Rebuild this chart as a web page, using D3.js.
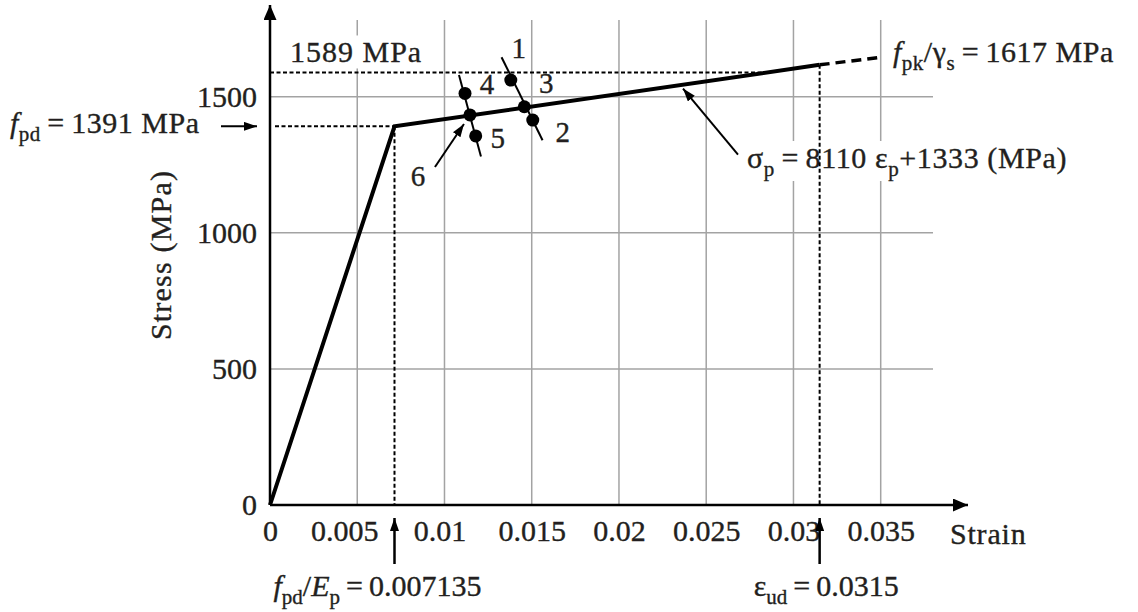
<!DOCTYPE html>
<html>
<head>
<meta charset="utf-8">
<script src="https://cdn.jsdelivr.net/npm/d3@7"></script>
<style>
  html, body { margin: 0; padding: 0; background: #fff; }
  svg { display: block; }
  text { font-family: "Liberation Serif", "Times New Roman", serif; fill: #231f20; stroke: #231f20; stroke-width: 0.35px; }
</style>
</head>
<body>
<svg id="chart" width="1138" height="612"></svg>
<script>
// ---------- data ----------
const curveStrain = [0, 0.007135, 0.0315];
const curveStress = [0, 1391, 1617];
const extStrain = [0.0315, 0.035];
const extStress = [1617, 1645];

const xTicks = [0, 0.005, 0.01, 0.015, 0.02, 0.025, 0.03, 0.035];
const xTickLabels = ["0", "0.005", "0.01", "0.015", "0.02", "0.025", "0.03", "0.035"];
const yTicks = [0, 500, 1000, 1500];
const yTickLabels = ["0", "500", "1000", "1500"];

const pointLabels = ["1", "2", "3", "4", "5", "6"];
const pointStrain = [0.01380, 0.01506, 0.014575, 0.011176, 0.01179, 0.01146];
const pointStress = [1561, 1414, 1463, 1512, 1356, 1433];

const segAStrain = [0.01327, 0.01562];
const segAStress = [1645, 1340];
const segBStrain = [0.01083, 0.01209];
const segBStress = [1580, 1280];

const refStress = 1589;     // dashed level
const fpd = 1391;
const epsYield = 0.007135;
const epsUd = 0.0315;
const sigmaArrowStrain = 0.02367; // where sigma_p arrow points

// ---------- layout ----------
const svg = d3.select("#chart");
const x = d3.scaleLinear().domain([0, 0.035]).range([270, 880.7]);
const y = d3.scaleLinear().domain([0, 1500]).range([505, 96.7]);
const gridTop = 20, gridRight = 933, xAxisEnd = 968, yAxisEnd = 5;
const FS = 30;

const defs = svg.append("defs");
function marker(id, len, wid) {
  defs.append("marker").attr("id", id)
    .attr("viewBox", `0 0 ${len} ${wid}`)
    .attr("refX", len).attr("refY", wid / 2)
    .attr("markerWidth", len).attr("markerHeight", wid)
    .attr("markerUnits", "userSpaceOnUse")
    .attr("orient", "auto")
    .append("path").attr("d", `M0,0 L${len},${wid / 2} L0,${wid} Z`).attr("fill", "#000");
}
marker("axisHead", 15, 13);
marker("annHead", 13, 9);

// grid
const grid = svg.append("g").attr("stroke", "#a3a3a3").attr("stroke-width", 1.5);
grid.selectAll("line.v").data(xTicks.slice(1)).join("line")
  .attr("x1", d => x(d)).attr("x2", d => x(d))
  .attr("y1", y(0)).attr("y2", gridTop);
grid.selectAll("line.h").data(yTicks.slice(1)).join("line")
  .attr("x1", x(0)).attr("x2", gridRight)
  .attr("y1", d => y(d)).attr("y2", d => y(d));

// helper for rich text with italics/subscripts
function rich(parent, px, py, parts, opts = {}) {
  const t = parent.append("text").attr("x", px).attr("y", py)
    .attr("font-size", opts.size || FS)
    .attr("letter-spacing", opts.ls != null ? opts.ls : 0.5)
    .attr("text-anchor", opts.anchor || "start");
  let shifted = 0;
  parts.forEach(p => {
    const ts = t.append("tspan").text(p.t);
    if (p.i) ts.attr("font-style", "italic");
    const want = p.sub ? 8 : 0;
    if (want !== shifted) { ts.attr("dy", want - shifted); shifted = want; }
    if (p.sub) ts.attr("font-size", 21);
  });
  if (opts.bg) {
    const b = t.node().getBBox();
    parent.insert("rect", () => t.node())
      .attr("x", b.x - 3).attr("y", b.y).attr("width", b.width + 6).attr("height", b.height)
      .attr("fill", "#fff");
  }
  return t;
}

const ann = svg.append("g");

// dashed reference lines
const dash = svg.append("g").attr("stroke", "#000").attr("stroke-width", 2).attr("stroke-dasharray", "4,2.5").attr("fill", "none");
const meetStrain = d3.scaleLinear().domain([curveStress[1], curveStress[2]]).range([curveStrain[1], curveStrain[2]])(refStress);
dash.append("line").attr("x1", x(0)).attr("x2", x(meetStrain)).attr("y1", y(refStress)).attr("y2", y(refStress));
dash.append("line").attr("x1", x(0) + 5).attr("x2", x(epsYield)).attr("y1", y(fpd)).attr("y2", y(fpd));
dash.append("line").attr("x1", x(epsYield)).attr("x2", x(epsYield)).attr("y1", y(fpd)).attr("y2", y(0));
dash.append("line").attr("x1", x(epsUd)).attr("x2", x(epsUd)).attr("y1", y(curveStress[2])).attr("y2", y(0));

// axes lines
svg.append("line").attr("x1", x(0)).attr("x2", xAxisEnd).attr("y1", y(0)).attr("y2", y(0))
  .attr("stroke", "#000").attr("stroke-width", 2.5).attr("marker-end", "url(#axisHead)");
svg.append("line").attr("x1", x(0)).attr("x2", x(0)).attr("y1", y(0)).attr("y2", yAxisEnd)
  .attr("stroke", "#000").attr("stroke-width", 2.5).attr("marker-end", "url(#axisHead)");

// tick labels via d3 axes
const xa = svg.append("g").attr("transform", `translate(0,${y(0)})`)
  .call(d3.axisBottom(x).tickValues(xTicks).tickFormat((d, i) => xTickLabels[i]).tickSize(0).tickPadding(15));
xa.select(".domain").remove();
xa.selectAll("text").attr("font-size", FS).attr("font-family", null).attr("fill", "#231f20")
  .attr("dx", d => d === 0.005 ? -13 : (d === 0.01 ? -5 : 0));
const ya = svg.append("g").attr("transform", `translate(${x(0)},0)`)
  .call(d3.axisLeft(y).tickValues(yTicks).tickFormat((d, i) => yTickLabels[i]).tickSize(0).tickPadding(13));
ya.select(".domain").remove();
ya.selectAll("text").attr("font-size", FS).attr("font-family", null).attr("fill", "#231f20");
svg.selectAll(".tick line").remove();

// axis titles
svg.append("text").attr("x", 950).attr("y", 544).attr("font-size", FS).attr("letter-spacing", 0.8).text("Strain");
svg.append("text").attr("transform", `translate(171,255) rotate(-90)`).attr("text-anchor", "middle")
  .attr("font-size", FS).attr("letter-spacing", 1.2).text("Stress (MPa)");

// main curve
const line = d3.line().x(d => x(d[0])).y(d => y(d[1]));
svg.append("path").datum(d3.zip(curveStrain, curveStress)).attr("d", line)
  .attr("fill", "none").attr("stroke", "#000").attr("stroke-width", 4).attr("stroke-linejoin", "miter");
svg.append("path").datum(d3.zip(extStrain, extStress)).attr("d", line)
  .attr("fill", "none").attr("stroke", "#000").attr("stroke-width", 3.5).attr("stroke-dasharray", "10,6");

// strand marker segments
[[segAStrain, segAStress], [segBStrain, segBStress]].forEach(([s, t]) => {
  svg.append("path").datum(d3.zip(s, t)).attr("d", line)
    .attr("fill", "none").attr("stroke", "#000").attr("stroke-width", 2);
});
svg.selectAll("circle.pt").data(d3.range(pointStrain.length)).join("circle")
  .attr("cx", i => x(pointStrain[i])).attr("cy", i => y(pointStress[i])).attr("r", 6.5).attr("fill", "#000");

const labelOffsets = [[8, -22], [30, 22], [22, -14], [22, 1], [22, 12], [-52, 71]];
svg.selectAll("text.pl").data(d3.range(pointLabels.length)).join("text")
  .attr("x", i => x(pointStrain[i]) + labelOffsets[i][0])
  .attr("y", i => y(pointStress[i]) + labelOffsets[i][1])
  .attr("text-anchor", "middle").attr("font-size", 29).text(i => pointLabels[i]);
// arrow from label 6
svg.append("line")
  .attr("x1", x(pointStrain[5]) - 35).attr("y1", y(pointStress[5]) + 52)
  .attr("x2", x(pointStrain[5]) - 6).attr("y2", y(pointStress[5]) + 9)
  .attr("stroke", "#000").attr("stroke-width", 2).attr("marker-end", "url(#annHead)");

// annotations
rich(ann, x(0) + 20, y(refStress) - 10, [{ t: "1589 MPa" }], { bg: true, ls: 1 });

rich(svg, 10, y(fpd) + 7, [{ t: "f", i: true }, { t: "pd", sub: true }, { t: "\u2009=\u20091391 MPa" }]);
svg.append("line").attr("x1", 221).attr("x2", x(0) - 13).attr("y1", y(fpd)).attr("y2", y(fpd))
  .attr("stroke", "#000").attr("stroke-width", 2).attr("marker-end", "url(#annHead)");

rich(svg, 893, y(curveStress[2]) - 3,
  [{ t: "f", i: true }, { t: "pk", sub: true }, { t: "/\u03b3" }, { t: "s", sub: true }, { t: "\u2009=\u20091617 MPa" }]);

// sigma_p annotation
const sigAt = d3.scaleLinear().domain([curveStrain[1], curveStrain[2]]).range([curveStress[1], curveStress[2]])(sigmaArrowStrain);
rich(ann, 747, 168,
  [{ t: "\u03c3" }, { t: "p", sub: true }, { t: "\u2009=\u20098110 \u03b5" }, { t: "p", sub: true }, { t: "+1333 (MPa)" }], { bg: true, ls: 0.6 });
svg.append("line")
  .attr("x1", x(sigmaArrowStrain) + 55).attr("y1", y(sigAt) + 70)
  .attr("x2", x(sigmaArrowStrain)).attr("y2", y(sigAt) + 4)
  .attr("stroke", "#000").attr("stroke-width", 2).attr("marker-end", "url(#annHead)");

// bottom arrows and labels
[epsYield, epsUd].forEach(e => {
  svg.append("line").attr("x1", x(e)).attr("x2", x(e)).attr("y1", 564).attr("y2", y(0) + 13)
    .attr("stroke", "#000").attr("stroke-width", 2.5).attr("marker-end", "url(#annHead)");
});
rich(svg, x(epsYield) - 121, 596,
  [{ t: "f", i: true }, { t: "pd", sub: true }, { t: "/" }, { t: "E", i: true }, { t: "p", sub: true }, { t: "\u2009=\u20090.007135" }], { ls: 0 });
rich(svg, x(epsUd) - 66, 596,
  [{ t: "\u03b5" }, { t: "ud", sub: true }, { t: "\u2009=\u20090.0315" }], { ls: 0 });
</script>
</body>
</html>
